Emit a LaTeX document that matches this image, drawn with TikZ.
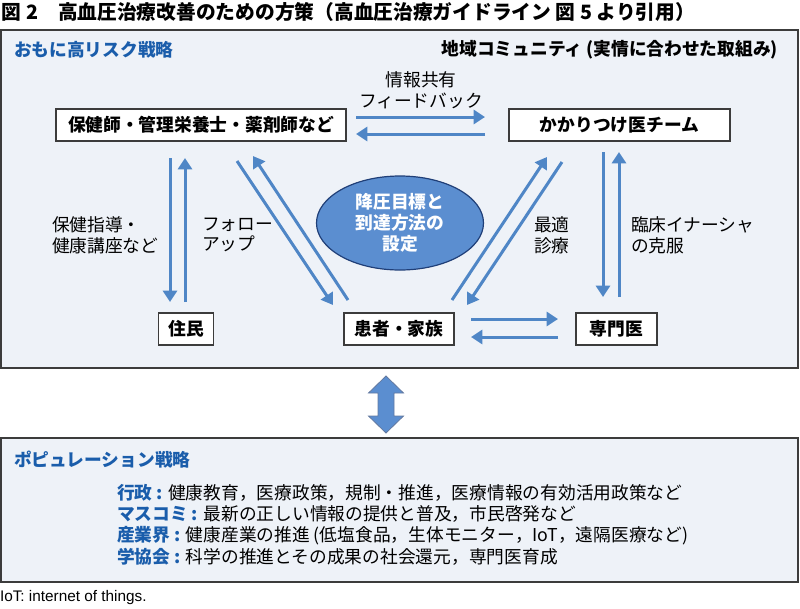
\documentclass[tikz,border=0pt]{standalone}
\usepackage{fontspec}
\setmainfont{Noto Sans CJK JP}
\newfontfamily\footfont{Liberation Sans}
\usetikzlibrary{arrows.meta,shapes.geometric,calc}
\definecolor{arrowblue}{HTML}{4F86C6}
\definecolor{bgblue}{HTML}{EEF2F8}
\definecolor{textblue}{HTML}{1A5DAB}
\definecolor{ellfill}{HTML}{5B8ED0}
\definecolor{elldraw}{HTML}{203F78}
\definecolor{frame}{HTML}{3C3C3C}
\newcommand\myfs{\fontsize{13.3pt}{15.5pt}\selectfont}
\begin{document}
\begin{tikzpicture}[x=0.75pt,y=-0.75pt,
  every node/.style={inner sep=0pt,outer sep=0pt},
  lbox/.style={draw=frame,line width=1.1pt,fill=white,minimum height=24pt,font=\myfs\bfseries},
  flow/.style={draw=arrowblue,line width=2.25pt,-{Triangle[length=8.5pt,width=10.5pt]}},
  outer/.style={draw=frame,line width=1.2pt,fill=bgblue,minimum width=597.75pt},
  lab/.style={font=\myfs,align=left,anchor=west},
  blue/.style={font=\myfs\bfseries,text=textblue,anchor=west}]
\useasboundingbox (0,0) rectangle (800,608);

% title
\node[anchor=west,font=\fontsize{14.8pt}{16pt}\selectfont\bfseries] (title) at (2,12)
  {図 2　高血圧治療改善のための方策（高血圧治療ガイドライン 図 5 より引用）};

% outer boxes
\node[outer,minimum height=253.5pt] (top) at (399.5,199) {};
\node[outer,minimum height=108pt] (bot) at (399.5,510) {};

\node[blue] (hdr) at (14,50) {おもに高リスク戦略};
\node[font=\myfs\bfseries,anchor=east] (comm) at (778,50) {地域コミュニティ (実情に合わせた取組み)};

% boxes
\node[lbox,minimum width=217.5pt] (hok) at (201,125) {保健師・管理栄養士・薬剤師など};
\node[lbox,minimum width=165.75pt] (kak) at (619.5,125) {かかりつけ医チーム};
\node[lbox,minimum width=41pt] (jum) at (186,329) {住民};
\node[lbox,minimum width=82.5pt] (kan) at (399,329) {患者・家族};
\node[lbox,minimum width=60.75pt] (sen) at (616.5,329) {専門医};

% ellipse
\node[ellipse,draw=elldraw,line width=0.9pt,fill=ellfill,minimum width=125.25pt,minimum height=70.5pt,
  text=white,font=\fontsize{13.3pt}{15.75pt}\selectfont\bfseries,align=center] (goal) at (400,223)
  {降圧目標と\\到達方法の\\設定};

% labels
\node[font=\fontsize{13.3pt}{15.75pt}\selectfont,align=center] (info) at (421,90) {情報共有\\フィードバック};
\node[lab] (l1) at (52,235) {保健指導・\\健康講座など};
\node[lab] (l2) at (202,235) {フォロー\\アップ};
\node[lab] (l3) at (534,235) {最適\\診療};
\node[lab] (l4) at (631,235) {臨床イナーシャ\\の克服};

% arrows top
\draw[flow] ($(hok.east)+(10,-8)$) -- ($(kak.west)+(-24,-8)$);
\draw[flow] ($(kak.west)+(-24,9)$) -- ($(hok.east)+(10,9)$);
% left verticals
\draw[flow] ($(hok.south)+(-31,17)$) -- ($(jum.north)+(-16,-11)$);
\draw[flow] ($(jum.north)+(-1,-11)$) -- ($(hok.south)+(-16,17)$);
% left diagonals
\draw[flow] ($(hok.south)+(36,20)$) -- ($(kan.north)+(-66,-8)$);
\draw[flow] ($(kan.north)+(-51,-13)$) -- ($(hok.south)+(52,15)$);
% right diagonals
\draw[flow] ($(kan.north)+(53,-13)$) -- ($(kak.south)+(-72.5,16)$);
\draw[flow] ($(kak.south)+(-57.5,21)$) -- ($(kan.north)+(68,-8)$);
% right verticals
\draw[flow] ($(kak.south)+(-16.5,11)$) -- ($(sen.north)+(-13.5,-16)$);
\draw[flow] ($(sen.north)+(2.5,-16)$) -- ($(kak.south)+(-0.5,11)$);
% bottom horizontals
\draw[flow] ($(kan.east)+(17,-10)$) -- ($(sen.west)+(-18,-10)$);
\draw[flow] ($(sen.west)+(-18,8)$) -- ($(kan.east)+(17,8)$);

% big double arrow
\fill[ellfill,draw=elldraw!70,line width=0.6pt]
  (386,376) -- (403.5,393) -- (394,393) -- (394,416) -- (403.5,416) -- (386,433)
  -- (368.5,416) -- (378,416) -- (378,393) -- (368.5,393) -- cycle;

% bottom box text
\node[blue] (pop) at (14,460) {ポピュレーション戦略};
\node[lab] (b1) at (117,493) {{\color{textblue}\bfseries 行政 : }健康教育，医療政策，規制・推進，医療情報の有効活用政策など};
\node[lab] (b2) at (117,514) {{\color{textblue}\bfseries マスコミ : }最新の正しい情報の提供と普及，市民啓発など};
\node[lab] (b3) at (117,536) {{\color{textblue}\bfseries 産業界 : }健康産業の推進 (低塩食品，生体モニター，IoT，遠隔医療など)};
\node[lab] (b4) at (117,557) {{\color{textblue}\bfseries 学協会 : }科学の推進とその成果の社会還元，専門医育成};

\node[anchor=west,font=\footfont\fontsize{11.5pt}{13pt}\selectfont] (foot) at (0,598) {IoT: internet of things.};
\end{tikzpicture}
\end{document}
